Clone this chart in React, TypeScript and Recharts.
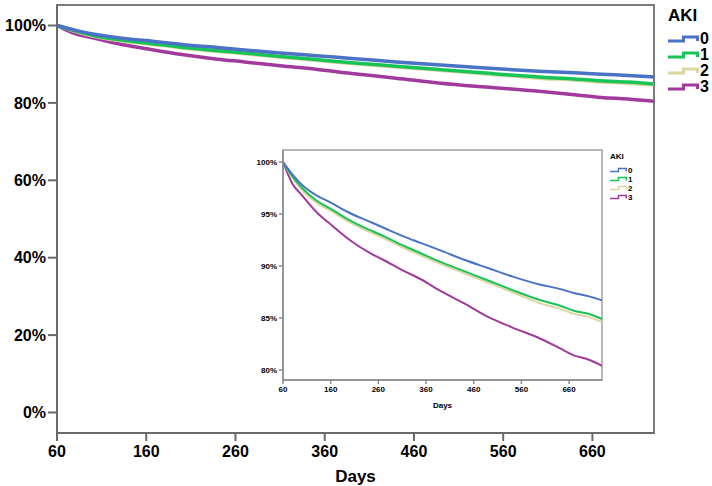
import React from 'react';
import { LineChart, Line, XAxis, YAxis, ReferenceArea } from 'recharts';

// ============================================
// AKI survival curves (main + zoomed inset)
// ============================================

const days = [60, 80, 100, 130, 160, 200, 240, 270, 310, 350, 390, 440, 490, 540, 600, 640, 670, 700, 729];
const aki0 = [100, 98.8, 97.8, 96.8, 96.1, 95.1, 94.3, 93.7, 92.9, 92.2, 91.5, 90.6, 89.8, 89.0, 88.2, 87.8, 87.4, 87.1, 86.7];
const aki1 = [100, 98.6, 97.5, 96.3, 95.5, 94.4, 93.5, 92.9, 92.0, 91.2, 90.4, 89.5, 88.6, 87.7, 86.7, 86.2, 85.7, 85.4, 84.9];
const aki2 = [100, 98.5, 97.3, 96.1, 95.3, 94.2, 93.3, 92.7, 91.8, 91.0, 90.2, 89.3, 88.4, 87.5, 86.4, 85.9, 85.4, 85.1, 84.6];
const aki3 = [100, 97.9, 96.8, 95.2, 94.0, 92.5, 91.3, 90.6, 89.6, 88.7, 87.6, 86.4, 85.1, 84.1, 83.0, 82.1, 81.4, 81.0, 80.4];

const dayTicks = [60, 160, 260, 360, 460, 560, 660];
const mainPctTicks = [0, 20, 40, 60, 80, 100];
const insetPctTicks = [80, 85, 90, 95, 100];

const groups = ['0', '1', '2', '3'];
const COLORS: Record<string, string> = {
  '0': '#4a72c6',
  '1': '#19c456',
  '2': '#ddd6a2',
  '3': '#a23a9e',
};

const FONT = '"Liberation Sans", Arial, sans-serif';

const rows = days.map((d, i) => ({
  day: d,
  a0: aki0[i],
  a1: aki1[i],
  a2: aki2[i],
  a3: aki3[i],
}));

// draw order: 3 at the back, 0 on top
const drawOrder = ['3', '2', '1', '0'];

function StepIcon({ w, h, color, sw }: { w: number; h: number; color: string; sw: number }) {
  const m = w / 2;
  return (
    <svg width={w} height={h} style={{ display: 'block', flex: 'none' }}>
      <path
        d={`M0,${h - sw} H${m} V${sw} H${w - sw / 2} V${h - sw}`}
        fill="none"
        stroke={color}
        strokeWidth={sw}
      />
    </svg>
  );
}

function AkiLegend({
  left, top, titleSize, textSize, rowGap, iconW, iconH, sw,
}: {
  left: number; top: number; titleSize: number; textSize: number;
  rowGap: number; iconW: number; iconH: number; sw: number;
}) {
  return (
    <div style={{ position: 'absolute', left, top, fontFamily: FONT, fontWeight: 'bold', color: '#000' }}>
      <div style={{ fontSize: titleSize, lineHeight: `${titleSize + 4}px`, marginBottom: rowGap * 0.3 }}>AKI</div>
      {groups.map((g) => (
        <div key={g} style={{ display: 'flex', alignItems: 'center', height: rowGap, lineHeight: `${rowGap}px` }}>
          <StepIcon w={iconW} h={iconH} color={COLORS[g]} sw={sw} />
          <span style={{ fontSize: textSize, marginLeft: 1, lineHeight: `${rowGap}px` }}>{g}</span>
        </div>
      ))}
    </div>
  );
}

export default function App() {
  const mainTick = { fontSize: 16, fontWeight: 'bold', fill: '#000', fontFamily: FONT };
  const insetTick = { fontSize: 8, fontWeight: 'bold', fill: '#000', fontFamily: FONT };

  return (
    <div style={{ position: 'absolute', left: 0, top: 0, width: 712, height: 486, background: '#fff', overflow: 'hidden' }}>
      {/* Main chart */}
      <LineChart width={712} height={486} data={rows} margin={{ top: 5, right: 58, bottom: 0, left: 0 }}>
        <XAxis
          dataKey="day"
          type="number"
          domain={[60, 729]}
          ticks={dayTicks}
          allowDataOverflow
          height={53}
          tick={mainTick}
          tickSize={8}
          tickMargin={5}
          stroke="#6a6a6a"
          strokeWidth={2}
          label={{ value: 'Days', position: 'insideBottom', offset: 4, style: { fontSize: 17, fontWeight: 'bold', fill: '#000', fontFamily: FONT } }}
        />
        <YAxis
          type="number"
          domain={[-5.3, 105.3]}
          ticks={mainPctTicks}
          allowDataOverflow
          width={57}
          tick={mainTick}
          tickSize={9}
          tickFormatter={(v: number) => `${v}%`}
          stroke="#6a6a6a"
          strokeWidth={2}
        />
        <ReferenceArea x1={60} x2={729} y1={-5.3} y2={105.3} fill="none" stroke="#7a7a7a" strokeWidth={2} ifOverflow="visible" />
        {drawOrder.map((g) => (
          <Line
            key={g}
            type="monotone"
            dataKey={`a${g}`}
            stroke={COLORS[g]}
            strokeWidth={3.5}
            dot={false}
            isAnimationActive={false}
          />
        ))}
      </LineChart>

      <AkiLegend left={668} top={5} titleSize={17} textSize={16} rowGap={16} iconW={31} iconH={10} sw={3} />

      {/* Inset chart */}
      <div style={{ position: 'absolute', left: 240, top: 140, width: 400, height: 280 }}>
        <LineChart width={400} height={280} data={rows} margin={{ top: 10, right: 38, bottom: 0, left: 0 }}>
          <XAxis
            dataKey="day"
            type="number"
            domain={[60, 729]}
            ticks={dayTicks}
            allowDataOverflow
            height={40}
            tick={insetTick}
            tickSize={4}
            stroke="#8a8a8a"
            strokeWidth={1.5}
            label={{ value: 'Days', position: 'insideBottom', offset: 12, style: { fontSize: 8, fontWeight: 'bold', fill: '#000', fontFamily: FONT } }}
          />
          <YAxis
            type="number"
            domain={[79.03, 101.16]}
            ticks={insetPctTicks}
            allowDataOverflow
            width={43}
            tick={insetTick}
            tickSize={4}
            tickFormatter={(v: number) => `${v}%`}
            stroke="#8a8a8a"
            strokeWidth={1.5}
          />
          <ReferenceArea x1={60} x2={729} y1={79.03} y2={101.16} fill="none" stroke="#a0a0a0" strokeWidth={1.5} ifOverflow="visible" />
          {drawOrder.map((g) => (
            <Line
              key={g}
              type="monotone"
              dataKey={`a${g}`}
              stroke={COLORS[g]}
              strokeWidth={2}
              dot={false}
              isAnimationActive={false}
            />
          ))}
        </LineChart>
      </div>

      <AkiLegend left={610} top={151} titleSize={8} textSize={8} rowGap={9} iconW={17} iconH={6} sw={1.5} />
    </div>
  );
}
